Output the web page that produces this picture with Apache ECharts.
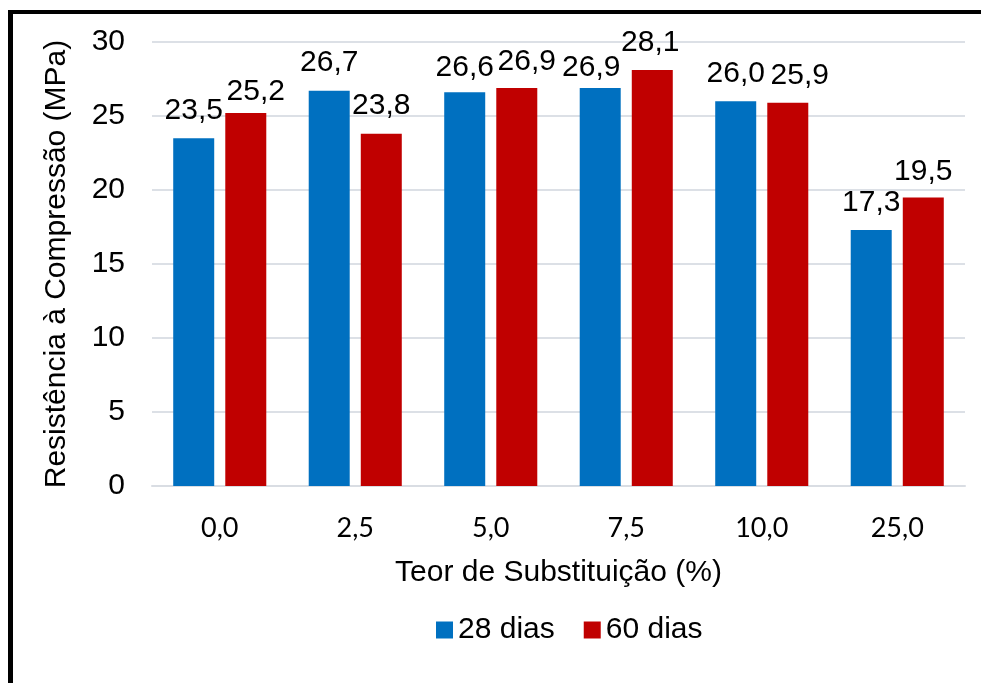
<!DOCTYPE html>
<html>
<head>
<meta charset="utf-8">
<script src="https://cdn.jsdelivr.net/npm/echarts@6/dist/echarts.min.js"></script>
<style>
  html, body { margin: 0; padding: 0; background: #fff; }
  #chart { width: 981px; height: 683px; }
</style>
</head>
<body>
<div id="chart"></div>
<script>
const categories = ['0,0', '2,5', '5,0', '7,5', '10,0', '25,0'];
const dias28 = [23.5, 26.7, 26.6, 26.9, 26.0, 17.3];
const dias60 = [25.2, 23.8, 26.9, 28.1, 25.9, 19.5];
const seriesNames = ['28 dias', '60 dias'];
const yTicks = { min: 0, max: 30, interval: 5 };

// label nudges (style only)
const shift28 = [[0,0],[0,-1],[0,2],[-9,7],[0,0],[0,0]];
const shift60 = [[10,6],[0,-1],[10,1],[-2,0],[12,0],[0,1]];

const FONT = '"Liberation Sans", Arial, sans-serif';
const FS = 30;

function mk(values, shifts) {
  return values.map((v, i) => ({ value: v, label: { offset: shifts[i] } }));
}

const chart = echarts.init(document.getElementById('chart'), null, { renderer: 'canvas' });
const labelCfg = {
  show: true, position: 'top', distance: 12,
  color: '#000', fontFamily: FONT, fontSize: FS,
  formatter: p => p.value.toFixed(1).replace('.', ',')
};
chart.setOption({
  animation: false,
  backgroundColor: '#fff',
  grid: { left: 152, right: 16, top: 42, bottom: 197, containLabel: false },
  legend: {
    data: seriesNames,
    left: 431, top: 610,
    itemWidth: 17, itemHeight: 17, itemGap: 29,
    icon: 'rect',
    textStyle: { fontFamily: FONT, fontSize: FS, color: '#000' }
  },
  xAxis: {
    type: 'category',
    data: categories,
    axisLine: { show: true, lineStyle: { color: '#D9DDE3', width: 2 } },
    axisTick: { show: false },
    axisLabel: { color: '#000', fontFamily: 'Lato, "Open Sans", sans-serif', fontSize: 27, margin: 29 },
    name: 'Teor de Substituição (%)',
    nameLocation: 'middle', nameGap: 72,
    nameTextStyle: { color: '#000', fontFamily: FONT, fontSize: FS }
  },
  yAxis: {
    type: 'value',
    min: yTicks.min, max: yTicks.max, interval: yTicks.interval,
    axisLine: { show: false },
    axisTick: { show: false },
    splitLine: { lineStyle: { color: '#DCE0E6', width: 2 } },
    axisLabel: { color: '#000', fontFamily: FONT, fontSize: FS, margin: 27 },
    name: 'Resistência à Compressão (MPa)',
    nameLocation: 'middle', nameGap: 80,
    nameTextStyle: { color: '#000', fontFamily: FONT, fontSize: FS }
  },
  series: [
    { name: seriesNames[0], type: 'bar', data: mk(dias28, shift28), barWidth: 41, barGap: '27%',
      itemStyle: { color: '#0070C0' }, label: labelCfg },
    { name: seriesNames[1], type: 'bar', data: mk(dias60, shift60), barWidth: 41, barGap: '27%',
      itemStyle: { color: '#C00000' }, label: labelCfg }
  ],
  graphic: [
    { type: 'rect', shape: { x: 8, y: 10, width: 5, height: 673 }, style: { fill: '#000' }, silent: true },
    { type: 'rect', shape: { x: 8, y: 10, width: 973, height: 4 }, style: { fill: '#000' }, silent: true }
  ]
});
</script>
</body>
</html>
